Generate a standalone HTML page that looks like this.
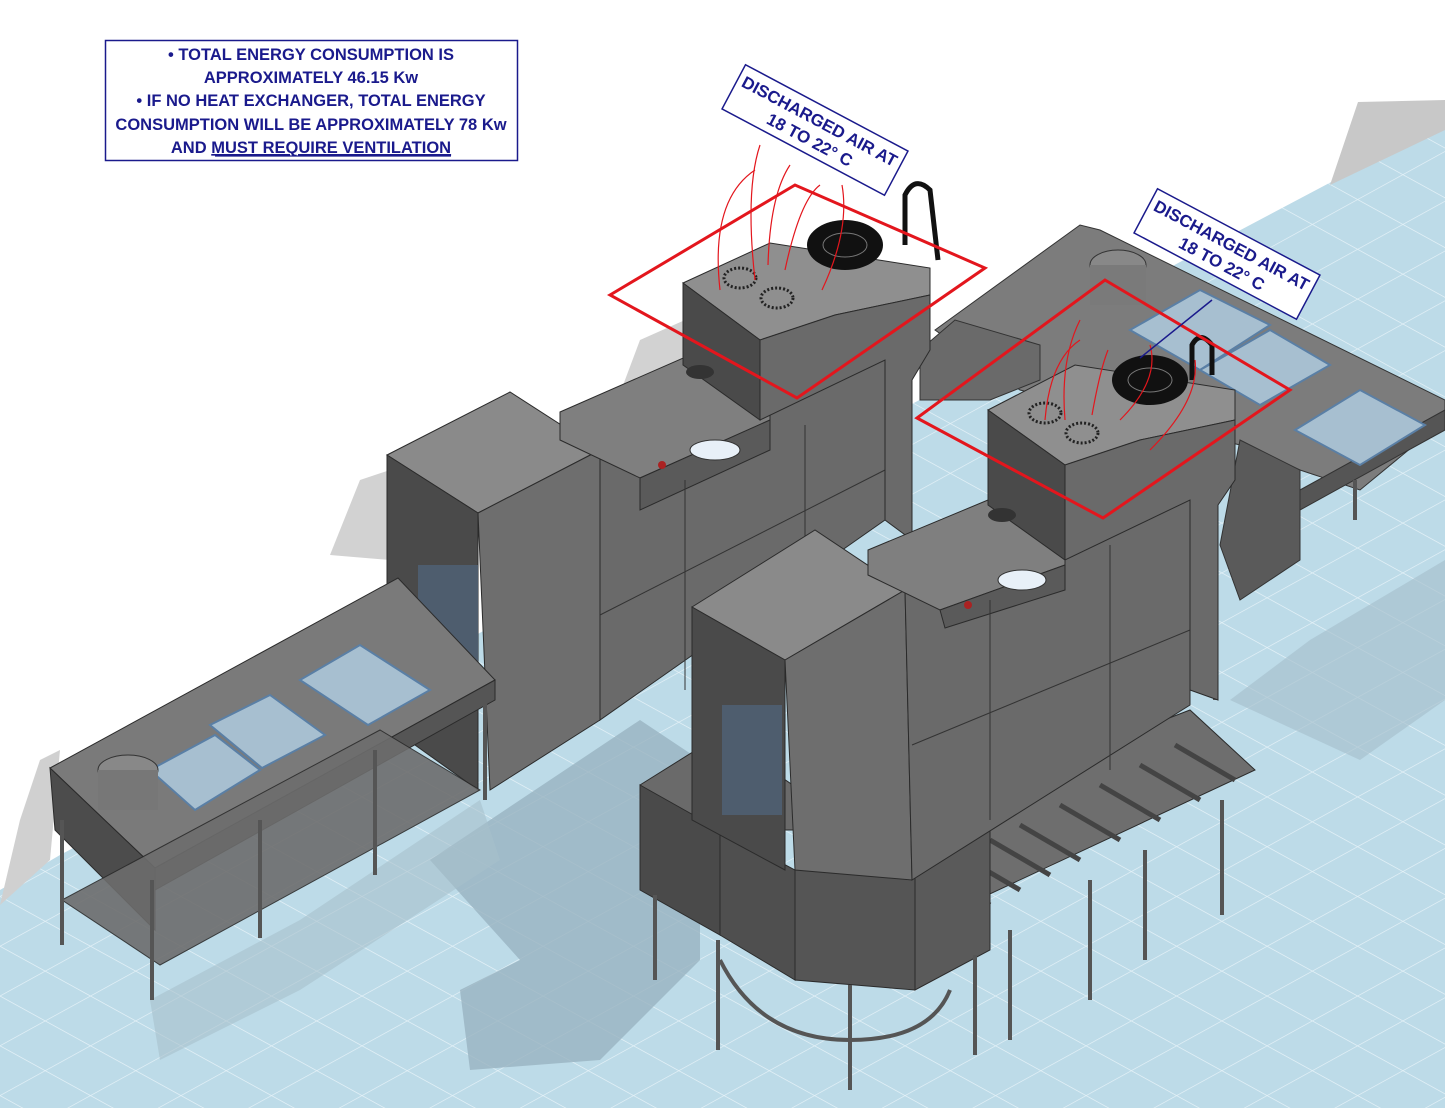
<!DOCTYPE html>
<html><head><meta charset="utf-8"><style>
html,body{margin:0;padding:0;background:#fff}
svg{display:block}
.t{font-family:"Liberation Sans",sans-serif;font-weight:bold;fill:#1a1a8c}
</style></head><body>
<svg width="1445" height="1108" viewBox="0 0 1445 1108" xmlns="http://www.w3.org/2000/svg">
<defs>
<pattern id="grid" width="64" height="64" patternUnits="userSpaceOnUse" patternTransform="scale(1,0.55) rotate(45)">
<rect width="64" height="64" fill="#bddbe8"/>
<path d="M0 0H64M0 0V64" stroke="#e4f1f7" stroke-width="2"/>
</pattern>
</defs>
<rect width="1445" height="1108" fill="#fff"/>
<!-- floor -->
<polygon points="0,1108 0,890 60,855 1335,180 1445,125 1445,1108" fill="url(#grid)"/>
<!-- walls / grey shadows -->
<polygon points="1330,185 1358,102 1445,100 1445,130" fill="#c8c8c8"/>
<polygon points="0,905 20,820 40,760 60,750 50,860" fill="#d0d0d0"/>
<polygon points="610,420 640,340 685,320 690,400" fill="#d2d2d2"/>
<polygon points="330,555 360,480 390,470 390,560" fill="#d2d2d2"/>
<!-- floor shadows -->
<polygon points="430,860 520,800 640,720 700,760 700,960 600,1060 470,1070 460,990 520,960" fill="#98b3c0" opacity="0.8"/>
<polygon points="1230,700 1310,640 1445,560 1445,700 1360,760" fill="#a8c2ce" opacity="0.7"/>
<polygon points="150,1000 300,920 480,800 500,860 300,990 160,1060" fill="#a6c0cc" opacity="0.6"/>

<!-- right side table -->
<polygon points="935,330 1080,225 1100,230 1445,400 1445,420 1360,490 1300,470 1240,445 1020,390" fill="#7c7c7c" stroke="#333" stroke-width="1"/>
<polygon points="1240,440 1300,470 1300,560 1240,600 1220,545" fill="#5a5a5a" stroke="#333"/>
<polygon points="1300,490 1445,410 1445,430 1300,510" fill="#555" stroke="#333"/>
<line x1="1215" y1="580" x2="1215" y2="700" stroke="#555" stroke-width="4"/>
<line x1="1355" y1="480" x2="1355" y2="520" stroke="#555" stroke-width="4"/>
<ellipse cx="1118" cy="265" rx="28" ry="15" fill="#888" stroke="#333"/>
<rect x="1090" y="265" width="56" height="40" fill="#7a7a7a"/>
<polygon points="1130,330 1200,290 1270,325 1200,370" fill="#a7bfd0" stroke="#5a7fa5" stroke-width="2"/>
<polygon points="1200,370 1270,330 1330,365 1260,405" fill="#a7bfd0" stroke="#5a7fa5" stroke-width="2"/>
<polygon points="1295,430 1360,390 1425,425 1360,465" fill="#a7bfd0" stroke="#5a7fa5" stroke-width="2"/>
<polygon points="920,350 955,320 1040,345 1040,380 990,400 920,400" fill="#6a6a6a" stroke="#333"/>

<!-- back machine -->
<polygon points="387,455 510,392 600,450 478,513" fill="#8a8a8a" stroke="#2b2b2b"/>
<polygon points="387,455 478,513 478,790 387,725" fill="#4a4a4a" stroke="#2b2b2b"/>
<polygon points="478,513 600,450 600,720 490,790" fill="#6e6e6e" stroke="#2b2b2b"/>
<rect x="418" y="565" width="60" height="110" fill="#4e5d6e"/>
<polygon points="600,450 885,340 885,520 600,720" fill="#6a6a6a" stroke="#2b2b2b"/>
<polygon points="560,412 690,355 770,395 770,420 640,478 560,440" fill="#7f7f7f" stroke="#2b2b2b"/>
<polygon points="640,478 770,420 770,450 640,510" fill="#5a5a5a" stroke="#2b2b2b"/>
<line x1="685" y1="480" x2="685" y2="690" stroke="#333"/>
<line x1="805" y1="425" x2="805" y2="610" stroke="#333"/>
<line x1="600" y1="615" x2="885" y2="470" stroke="#333"/>
<ellipse cx="715" cy="450" rx="25" ry="10" fill="#e8f0f8" stroke="#333"/>
<circle cx="662" cy="465" r="4" fill="#a22"/>
<!-- back exchanger -->
<polygon points="683,283 770,243 930,268 930,295 835,315 760,340" fill="#8f8f8f" stroke="#2b2b2b"/>
<polygon points="683,283 760,340 760,420 683,365" fill="#4a4a4a" stroke="#2b2b2b"/>
<polygon points="760,340 835,315 930,295 930,350 912,380 912,540 885,520 885,360 760,420" fill="#6a6a6a" stroke="#2b2b2b"/>
<ellipse cx="845" cy="245" rx="38" ry="25" fill="#111"/>
<ellipse cx="845" cy="245" rx="22" ry="12" fill="none" stroke="#777"/>
<ellipse cx="740" cy="278" rx="16" ry="10" fill="none" stroke="#222" stroke-width="3" stroke-dasharray="2 2"/>
<ellipse cx="777" cy="298" rx="16" ry="10" fill="none" stroke="#222" stroke-width="3" stroke-dasharray="2 2"/>
<path d="M905,245 V195 Q915,175 930,190 L938,260" fill="none" stroke="#111" stroke-width="5"/>
<ellipse cx="700" cy="372" rx="14" ry="7" fill="#333"/>

<!-- left table -->
<polygon points="50,768 398,578 495,680 155,868" fill="#7a7a7a" stroke="#2b2b2b"/>
<polygon points="50,768 155,868 155,930 55,830" fill="#4c4c4c" stroke="#2b2b2b"/>
<polygon points="155,868 495,680 495,700 155,890" fill="#555" stroke="#2b2b2b"/>
<polygon points="62,900 380,730 480,790 160,965" fill="#6d6d6d" stroke="#2b2b2b" opacity="0.9"/>
<g stroke="#555" stroke-width="4">
<line x1="62" y1="820" x2="62" y2="945"/><line x1="152" y1="880" x2="152" y2="1000"/>
<line x1="260" y1="820" x2="260" y2="938"/><line x1="375" y1="750" x2="375" y2="875"/>
<line x1="485" y1="690" x2="485" y2="800"/>
</g>
<polygon points="150,770 215,735 260,770 195,810" fill="#a7bfd0" stroke="#5a7fa5" stroke-width="2"/>
<polygon points="210,725 270,695 325,735 262,768" fill="#a7bfd0" stroke="#5a7fa5" stroke-width="2"/>
<polygon points="300,680 360,645 430,690 368,725" fill="#a7bfd0" stroke="#5a7fa5" stroke-width="2"/>
<ellipse cx="128" cy="770" rx="30" ry="15" fill="#888" stroke="#333"/>
<rect x="98" y="770" width="60" height="40" fill="#777"/>

<!-- front conveyor / roller table -->
<polygon points="800,860 1190,710 1255,770 870,950" fill="#6e6e6e" stroke="#2b2b2b"/>
<g stroke="#444" stroke-width="5">
<line x1="930" y1="870" x2="990" y2="905"/><line x1="960" y1="855" x2="1020" y2="890"/>
<line x1="990" y1="840" x2="1050" y2="875"/><line x1="1020" y1="825" x2="1080" y2="860"/>
<line x1="1060" y1="805" x2="1120" y2="840"/><line x1="1100" y1="785" x2="1160" y2="820"/>
<line x1="1140" y1="765" x2="1200" y2="800"/><line x1="1175" y1="745" x2="1235" y2="780"/>
</g>
<polygon points="640,785 720,735 800,790 795,830 720,830 720,860" fill="#6a6a6a" stroke="#2b2b2b"/>
<polygon points="640,785 720,830 720,935 640,890" fill="#4a4a4a" stroke="#2b2b2b"/>
<polygon points="720,830 795,870 795,980 720,935" fill="#4f4f4f" stroke="#2b2b2b"/>
<polygon points="795,870 915,870 915,990 795,980" fill="#555" stroke="#2b2b2b"/>
<polygon points="915,870 990,830 990,950 915,990" fill="#5a5a5a" stroke="#2b2b2b"/>
<g stroke="#555" stroke-width="4">
<line x1="655" y1="895" x2="655" y2="980"/><line x1="718" y1="940" x2="718" y2="1050"/>
<line x1="850" y1="985" x2="850" y2="1090"/><line x1="975" y1="955" x2="975" y2="1055"/>
<line x1="1010" y1="930" x2="1010" y2="1040"/><line x1="1090" y1="880" x2="1090" y2="1000"/>
<line x1="1145" y1="850" x2="1145" y2="960"/><line x1="1222" y1="800" x2="1222" y2="915"/>
</g>
<path d="M720,960 Q760,1040 850,1040 Q930,1040 950,990" fill="none" stroke="#555" stroke-width="4"/>

<!-- front machine -->
<polygon points="692,607 815,530 905,590 785,660" fill="#8a8a8a" stroke="#2b2b2b"/>
<polygon points="692,607 785,660 785,870 692,820" fill="#4a4a4a" stroke="#2b2b2b"/>
<rect x="722" y="705" width="60" height="110" fill="#4e5d6e"/>
<polygon points="785,660 905,590 912,880 795,870" fill="#6e6e6e" stroke="#2b2b2b"/>
<polygon points="905,590 1190,470 1190,705 912,880" fill="#6a6a6a" stroke="#2b2b2b"/>
<polygon points="868,550 1000,495 1065,540 1065,565 940,610 868,575" fill="#7f7f7f" stroke="#2b2b2b"/>
<polygon points="940,610 1065,565 1065,590 945,628" fill="#5a5a5a" stroke="#2b2b2b"/>
<line x1="990" y1="600" x2="990" y2="820" stroke="#333"/>
<line x1="1110" y1="545" x2="1110" y2="770" stroke="#333"/>
<line x1="912" y1="745" x2="1190" y2="630" stroke="#333"/>
<ellipse cx="1022" cy="580" rx="24" ry="10" fill="#e8f0f8" stroke="#333"/>
<circle cx="968" cy="605" r="4" fill="#a22"/>
<!-- front exchanger -->
<polygon points="988,410 1075,365 1235,390 1235,420 1140,440 1065,465" fill="#8f8f8f" stroke="#2b2b2b"/>
<polygon points="988,410 1065,465 1065,560 988,505" fill="#4a4a4a" stroke="#2b2b2b"/>
<polygon points="1065,465 1140,440 1235,420 1235,480 1218,505 1218,700 1190,690 1190,500 1065,560" fill="#6a6a6a" stroke="#2b2b2b"/>
<ellipse cx="1150" cy="380" rx="38" ry="25" fill="#111"/>
<ellipse cx="1150" cy="380" rx="22" ry="12" fill="none" stroke="#777"/>
<ellipse cx="1045" cy="413" rx="16" ry="10" fill="none" stroke="#222" stroke-width="3" stroke-dasharray="2 2"/>
<ellipse cx="1082" cy="433" rx="16" ry="10" fill="none" stroke="#222" stroke-width="3" stroke-dasharray="2 2"/>
<path d="M1192,380 V345 Q1200,330 1212,345 V375" fill="none" stroke="#111" stroke-width="5"/>
<ellipse cx="1002" cy="515" rx="14" ry="7" fill="#333"/>

<!-- red zones -->
<polygon points="610,295 795,185 985,268 797,398" fill="none" stroke="#e3161d" stroke-width="3"/>
<polygon points="917,418 1105,280 1290,390 1103,518" fill="none" stroke="#e3161d" stroke-width="3"/>
<g fill="none" stroke="#e3161d" stroke-width="1.2">
<path d="M720,290 Q710,200 755,170"/><path d="M755,280 Q745,190 760,145"/>
<path d="M768,265 Q770,195 790,165"/><path d="M785,270 Q800,200 820,185"/>
<path d="M822,290 Q850,230 842,185"/>
<path d="M1045,420 Q1050,360 1080,340"/><path d="M1065,420 Q1060,360 1080,320"/>
<path d="M1092,415 Q1100,370 1108,350"/><path d="M1120,420 Q1160,380 1150,345"/>
<path d="M1150,450 Q1200,400 1195,360"/>
</g>
<line x1="1140" y1="358" x2="1212" y2="300" stroke="#1a1a8c" stroke-width="1.5"/>

<!-- text box top-left -->
<rect x="105.5" y="40.5" width="412" height="120" fill="#fff" stroke="#1a1a8c" stroke-width="1.5"/>
<g class="t" font-size="16.5" text-anchor="middle">
<text x="311" y="60">• TOTAL ENERGY CONSUMPTION IS</text>
<text x="311" y="83">APPROXIMATELY 46.15 Kw</text>
<text x="311" y="106">• IF NO HEAT EXCHANGER, TOTAL ENERGY</text>
<text x="311" y="130">CONSUMPTION WILL BE APPROXIMATELY 78 Kw</text>
<text x="311" y="153">AND <tspan text-decoration="underline">MUST REQUIRE VENTILATION</tspan></text>
</g>
<line x1="215" y1="156" x2="451" y2="156" stroke="#1a1a8c" stroke-width="1.2"/>

<!-- rotated labels -->
<g transform="translate(815,130) rotate(28)">
<rect x="-92" y="-25" width="184" height="50" fill="#fff" stroke="#1a1a8c" stroke-width="1.5"/>
<text class="t" font-size="17" text-anchor="middle" y="-4">DISCHARGED AIR AT</text>
<text class="t" font-size="17" text-anchor="middle" y="17">18 TO 22° C</text>
</g>
<g transform="translate(1227,254) rotate(28)">
<rect x="-92" y="-25" width="184" height="50" fill="#fff" stroke="#1a1a8c" stroke-width="1.5"/>
<text class="t" font-size="17" text-anchor="middle" y="-4">DISCHARGED AIR AT</text>
<text class="t" font-size="17" text-anchor="middle" y="17">18 TO 22° C</text>
</g>
</svg>
</body></html>
